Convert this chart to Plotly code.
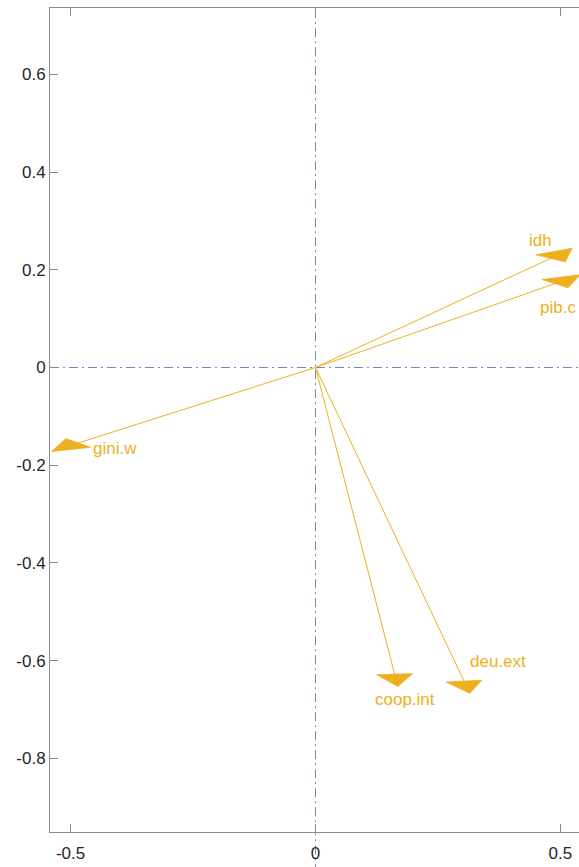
import numpy as np
import plotly.graph_objects as go

# Variable loadings (component 1, component 2)
variables = ["idh", "pib.c", "gini.w", "coop.int", "deu.ext"]
comp1 = [0.524, 0.541, -0.539, 0.168, 0.315]
comp2 = [0.244, 0.190, -0.172, -0.653, -0.667]

# Axis ticks
x_ticks = [-0.5, 0, 0.5]
x_tick_text = ["-0.5", "0", "0.5"]
y_ticks = [-0.8, -0.6, -0.4, -0.2, 0, 0.2, 0.4, 0.6]
y_tick_text = ["-0.8", "-0.6", "-0.4", "-0.2", "0", "0.2", "0.4", "0.6"]

# Styling
ARROW = "#EDB120"
AXIS = "#8a8a8a"
TEXT = "#262626"
GUIDE = "rgba(85,115,175,0.85)"
FONT = "Liberation Sans, Arial, Helvetica, sans-serif"

W, H = 579, 867
margin = dict(l=50, r=0, t=8, b=35)
x_range = [-0.542, 0.538]
y_range = [-0.951, 0.736]
ppu_x = (W - margin["l"] - margin["r"]) / (x_range[1] - x_range[0])
ppu_y = (H - margin["t"] - margin["b"]) / (y_range[1] - y_range[0])

# label offsets in pixels (dx right, dy up) relative to arrow tips
label_shift = [(-32, 8), (-22, -33), (64, 3), (7, -13), (28, 32)]

# arrowhead geometry (pixels), built in a vertically stretched frame
HEAD_LEN, HEAD_HALF, STRETCH = 37.0, 18.0, 3.0

fig = go.Figure()

for name, x, y in zip(variables, comp1, comp2):
    # shaft
    fig.add_trace(go.Scatter(
        x=[0, x], y=[0, y], mode="lines",
        line=dict(color=ARROW, width=1), hoverinfo="skip", showlegend=False))
    # filled arrowhead
    d = np.array([x * ppu_x, y * ppu_y * STRETCH])
    u = d / np.hypot(*d)
    n = np.array([-u[1], u[0]])
    base = -HEAD_LEN * u
    corners = [base + HEAD_HALF * n, base - HEAD_HALF * n]
    hx = [x] + [x + c[0] / ppu_x for c in corners] + [x]
    hy = [y] + [y + c[1] / (ppu_y * STRETCH) for c in corners] + [y]
    fig.add_trace(go.Scatter(
        x=hx, y=hy, mode="lines", fill="toself", fillcolor=ARROW,
        line=dict(color=ARROW, width=0.8), hoverinfo="skip", showlegend=False))

for (name, x, y), (dx, dy) in zip(zip(variables, comp1, comp2), label_shift):
    fig.add_annotation(
        x=x + dx / ppu_x, y=y + dy / ppu_y, text=name, showarrow=False,
        font=dict(family=FONT, size=17, color=ARROW))

# dash-dot reference lines through the origin
fig.add_shape(type="line", xref="x", yref="paper", x0=0, x1=0, y0=-0.05, y1=1,
              line=dict(color=GUIDE, width=1, dash="9px,4px,2px,4px"), layer="below")
fig.add_shape(type="line", xref="paper", yref="y", x0=0, x1=1, y0=0, y1=0,
              line=dict(color=GUIDE, width=1, dash="9px,4px,2px,4px"), layer="below")

fig.update_xaxes(
    range=x_range, tickvals=x_ticks, ticktext=x_tick_text,
    showgrid=False, zeroline=False, showline=True, linecolor=AXIS, linewidth=1,
    mirror="ticks", ticks="inside", ticklen=8, tickcolor=AXIS, tickwidth=1,
    ticklabelstandoff=6,
    tickfont=dict(family=FONT, size=17, color=TEXT))
fig.update_yaxes(
    range=y_range, tickvals=y_ticks, ticktext=y_tick_text,
    showgrid=False, zeroline=False, showline=True, linecolor=AXIS, linewidth=1,
    ticks="inside", ticklen=8, tickcolor=AXIS, tickwidth=1,
    tickfont=dict(family=FONT, size=17, color=TEXT))

fig.update_layout(
    width=W, height=H, margin=margin, autosize=False,
    paper_bgcolor="white", plot_bgcolor="white",
    font=dict(family=FONT))

fig.write_html("out.html")
